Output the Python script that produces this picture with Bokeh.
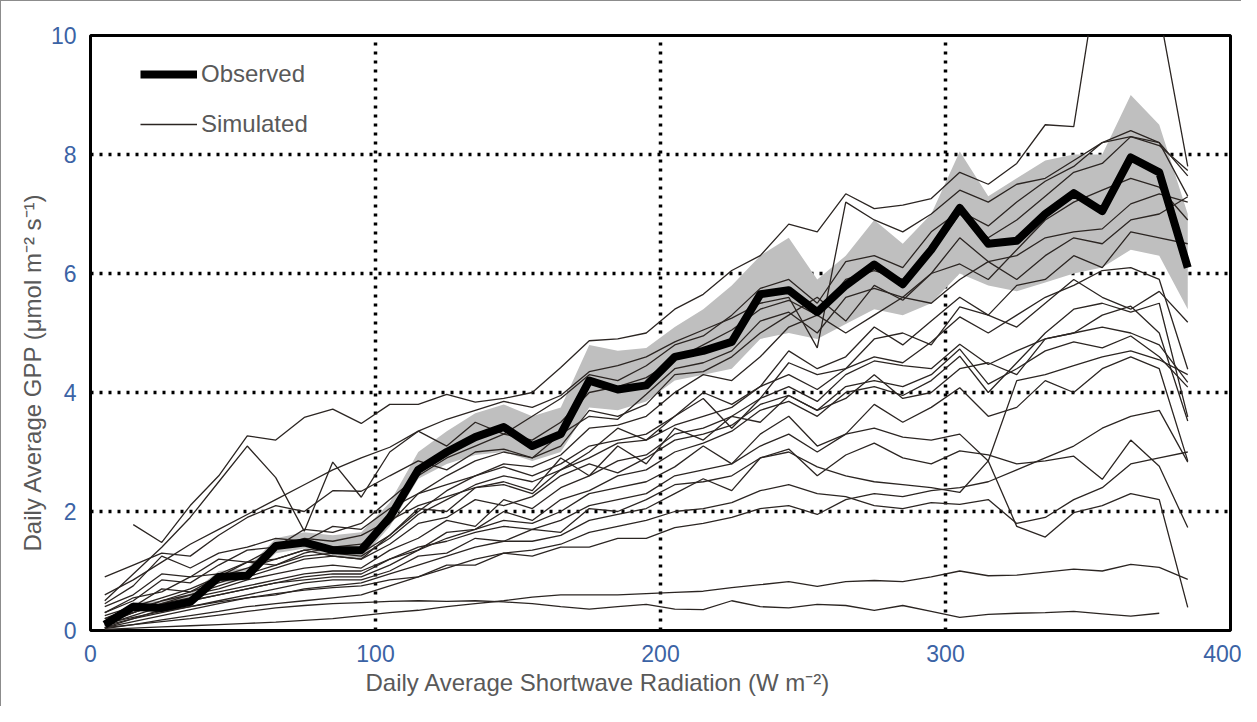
import math
from bokeh.plotting import figure
from bokeh.models import Range1d, FixedTicker, Legend, LegendItem, Title
from bokeh.embed import file_html
from bokeh.resources import INLINE

nan = float("nan")

# Shortwave radiation bins (W m-2)
radiation = [5, 15, 25, 35, 45, 55, 65, 75, 85, 95,
             105, 115, 125, 135, 145, 155, 165, 175, 185, 195,
             205, 215, 225, 235, 245, 255, 265, 275, 285, 295,
             305, 315, 325, 335, 345, 355, 365, 375, 385]

observed = [0.1, 0.4, 0.38, 0.48, 0.9, 0.92, 1.42, 1.48, 1.35, 1.35,
            1.9, 2.7, 3.0, 3.25, 3.42, 3.1, 3.3, 4.2, 4.05, 4.12,
            4.6, 4.7, 4.85, 5.65, 5.72, 5.35, 5.8, 6.15, 5.82, 6.4,
            7.1, 6.5, 6.55, 7.0, 7.35, 7.05, 7.95, 7.7, 6.1]

observed_low = [0.05, 0.32, 0.3, 0.4, 0.8, 0.85, 1.3, 1.38, 1.25, 1.2,
                1.75, 2.55, 2.8, 2.95, 3.0, 2.85, 3.0, 3.75, 3.7, 3.85,
                4.2, 4.3, 4.4, 4.9, 5.0, 4.9, 5.15, 5.4, 5.3, 5.5,
                6.0, 5.8, 5.7, 5.85, 6.0, 6.1, 6.4, 6.3, 5.4]

observed_high = [0.15, 0.48, 0.5, 0.62, 1.0, 1.05, 1.55, 1.65, 1.6, 1.65,
                 2.15, 3.0, 3.35, 3.65, 3.8, 3.6, 3.75, 4.8, 4.7, 4.75,
                 5.1, 5.4, 5.8, 6.3, 6.6, 5.9, 6.3, 6.9, 6.5, 7.0,
                 8.05, 7.3, 7.6, 7.9, 8.0, 8.0, 9.0, 8.5, 7.0]

sim_01 = [nan, 1.78, 1.48, 2.1, 2.6, 3.27, 3.2, 3.58, 3.72, 3.48,
          3.8, 3.8, 3.97, 3.84, 3.9, 4.0, 4.42, 4.87, 4.9, 5.0,
          5.4, 5.65, 6.05, 6.3, 6.83, 6.7, 7.34, 7.09, 7.15, 7.26,
          7.7, 7.5, 7.85, 8.5, 8.47, 11.5, 12.5, 10.4, 7.8]
sim_02 = [0.5, 0.95, 1.4, 1.9, 2.5, 3.1, 2.57, 1.67, 2.83, 2.24,
          3.0, 3.35, 3.1, 3.5, 3.3, 3.6, 3.9, 4.3, 4.2, 4.45,
          4.8, 4.95, 5.3, 5.75, 5.9, 5.5, 6.2, 6.3, 6.1, 6.7,
          7.05, 6.8, 7.2, 7.55, 7.8, 8.2, 8.4, 8.2, 7.64]
sim_03 = [0.6, 0.85, 1.15, 1.45, 1.7, 1.95, 2.2, 2.45, 2.7, 2.9,
          3.08, 3.35, 3.55, 3.7, 3.85, 3.75, 3.95, 4.35, 4.45, 4.6,
          4.85, 5.05, 5.25, 5.5, 5.6, 4.75, 7.2, 6.9, 6.7, 7.0,
          7.4, 7.2, 7.5, 7.6, 7.9, 8.2, 8.3, 8.2, 7.3]
sim_04 = [0.3, 0.5, 0.85, 0.8, 1.1, 1.35, 1.4, 1.7, 1.65, 1.8,
          2.2, 2.6, 2.9, 3.1, 3.3, 3.2, 3.5, 4.0, 4.1, 4.25,
          4.55, 4.8, 5.05, 5.4, 5.55, 5.3, 5.9, 6.05, 5.9, 6.35,
          7.0, 6.6, 6.9, 7.3, 7.7, 7.85, 8.3, 8.15, 7.73]
sim_05 = [0.2, 0.4, 0.55, 0.7, 0.9, 1.05, 1.2, 1.35, 1.4, 1.45,
          1.8, 2.3, 2.6, 2.85, 3.0, 2.9, 3.1, 3.7, 3.6, 3.8,
          4.3, 4.35, 4.6, 5.0, 5.3, 5.6, 5.2, 5.8, 5.55, 6.0,
          6.6, 6.2, 6.3, 6.6, 6.7, 6.75, 7.17, 7.34, 7.2]
sim_06 = [0.15, 0.3, 0.45, 0.6, 0.75, 0.9, 1.05, 1.2, 1.25, 1.2,
          1.6, 2.0, 2.35, 2.6, 2.8, 2.75, 2.95, 3.4, 3.45, 3.6,
          4.0, 4.3, 4.2, 4.6, 5.1, 5.3, 5.0, 5.3, 5.6, 5.5,
          5.9, 6.2, 5.9, 6.3, 6.6, 6.5, 6.9, 7.0, 7.29]
sim_07 = [0.1, 0.3, 0.5, 0.65, 0.8, 0.95, 1.1, 1.25, 1.3, 1.25,
          1.55, 1.95, 2.2, 2.45, 2.6, 2.5, 2.7, 3.0, 3.4, 3.2,
          3.6, 4.0, 3.8, 4.1, 4.7, 4.4, 4.6, 5.1, 4.8, 5.2,
          5.6, 5.3, 5.8, 5.9, 6.3, 6.1, 6.7, 6.6, 6.5]
sim_08 = [0.45, 0.75, 1.25, 1.05, 1.3, 1.4, 1.55, 1.5, 1.75, 1.7,
          2.05, 2.3, 2.45, 2.6, 2.75, 2.6, 2.8, 3.1, 3.2, 3.3,
          3.6, 3.9, 3.4, 3.9, 4.5, 4.3, 4.4, 4.9, 5.0, 4.8,
          5.44, 5.3, 5.1, 5.5, 5.9, 5.6, 5.4, 5.7, 5.18]
sim_09 = [0.25, 0.4, 0.7, 0.65, 0.9, 1.15, 1.1, 1.3, 1.4, 1.3,
          1.6, 2.05, 2.0, 2.4, 2.45, 2.3, 2.7, 2.9, 3.15, 3.2,
          3.45, 3.6, 3.75, 4.1, 4.3, 4.05, 4.4, 4.6, 4.5, 4.85,
          5.27, 5.0, 5.3, 5.6, 5.8, 6.05, 6.1, 5.9, 4.39]
sim_10 = [0.2, 0.35, 0.5, 0.6, 0.7, 0.85, 0.95, 1.05, 1.1, 1.05,
          1.35, 1.55, 1.85, 1.75, 2.2, 2.05, 2.4, 2.6, 2.85, 2.95,
          3.3, 3.4, 3.6, 3.9, 4.1, 3.85, 4.3, 4.53, 4.45, 4.4,
          4.81, 4.47, 4.7, 4.9, 5.0, 5.1, 5.0, 4.8, 4.17]
sim_11 = [0.3, 0.55, 0.65, 0.9, 0.95, 1.15, 1.2, 1.35, 1.25, 1.2,
          1.45, 1.8, 1.9, 2.2, 2.1, 2.25, 2.6, 2.8, 2.65, 2.9,
          3.2, 3.3, 3.45, 3.8, 3.95, 3.7, 4.1, 4.2, 4.1, 4.3,
          4.73, 4.14, 4.4, 4.7, 4.85, 4.75, 4.95, 4.6, 4.09]
sim_12 = [0.05, 0.2, 0.35, 0.5, 0.6, 0.7, 0.8, 0.9, 0.95, 0.95,
          1.2, 1.35, 1.65, 1.7, 2.0, 1.85, 2.2, 2.35, 2.6, 2.7,
          3.0, 3.15, 3.35, 3.7, 3.85, 3.6, 4.0, 4.1, 3.95, 4.2,
          4.61, 4.0, 4.5, 5.0, 5.4, 5.5, 5.35, 5.5, 3.59]
sim_13 = [0.4, 0.6, 0.95, 0.9, 1.2, 1.15, 1.4, 1.55, 1.5, 1.6,
          1.85, 2.1, 2.25, 2.4, 2.5, 2.35, 2.9, 2.6, 3.1, 2.8,
          3.4, 3.2, 3.6, 3.5, 3.95, 3.7, 3.9, 4.3, 3.9, 4.0,
          4.4, 4.5, 4.3, 4.9, 5.0, 5.3, 5.45, 5.0, 3.52]
sim_14 = [0.1, 0.25, 0.4, 0.5, 0.6, 0.7, 0.8, 0.85, 0.9, 0.9,
          1.1, 1.35, 1.55, 1.7, 1.85, 1.8, 2.0, 2.3, 2.4, 2.5,
          2.75, 3.1, 2.8, 3.3, 3.6, 3.1, 3.3, 3.8, 3.5, 3.75,
          4.08, 3.6, 3.75, 4.2, 4.0, 4.4, 4.6, 4.4, 2.85]
sim_15 = [0.15, 0.3, 0.45, 0.55, 0.65, 0.75, 0.85, 0.95, 1.0, 1.0,
          1.2, 1.4, 1.5, 1.65, 1.75, 1.7, 1.85, 2.1, 2.2, 2.3,
          2.6, 2.7, 2.8, 3.1, 3.3, 3.0, 3.3, 3.4, 3.25, 3.2,
          3.3, 2.85, 1.75, 1.57, 1.98, 2.1, 2.3, 2.2, 0.39]
sim_16 = [0.05, 0.15, 0.25, 0.35, 0.45, 0.55, 0.6, 0.7, 0.75, 0.8,
          0.95, 1.1, 1.25, 1.4, 1.5, 1.5, 1.6, 1.85, 1.95, 2.05,
          2.3, 2.55, 2.35, 2.9, 3.05, 2.6, 2.95, 3.15, 2.9, 2.8,
          3.02, 2.95, 2.8, 2.85, 2.93, 2.54, 3.2, 2.76, 1.73]
sim_17 = [0.08, 0.2, 0.3, 0.4, 0.5, 0.6, 0.7, 0.8, 0.85, 0.85,
          1.0, 1.25, 1.3, 1.55, 1.5, 1.7, 1.65, 2.05, 2.0, 2.2,
          2.45, 2.5, 2.6, 2.9, 3.0, 2.75, 2.6, 2.5, 2.45, 2.4,
          2.32, 2.85, 4.2, 4.3, 4.45, 4.6, 4.7, 4.55, 4.3]
sim_18 = [0.03, 0.1, 0.18, 0.25, 0.32, 0.4, 0.45, 0.5, 0.55, 0.6,
          0.75, 0.9, 1.05, 1.2, 1.3, 1.35, 1.45, 1.65, 1.75, 1.85,
          2.0, 2.05, 2.15, 2.35, 2.45, 2.3, 2.25, 2.1, 2.05, 2.15,
          2.12, 2.2, 1.8, 1.9, 2.2, 2.4, 2.8, 2.9, 3.0]
sim_19 = [0.9, 1.1, 1.3, 1.25, 1.6, 1.9, 2.1, 2.0, 2.35, 2.34,
          2.6, 2.85, 2.7, 3.0, 3.05, 2.9, 3.3, 3.6, 3.55, 3.97,
          4.4, 4.5, 4.7, 5.2, 5.35, 5.0, 5.6, 5.75, 5.6, 6.0,
          6.16, 5.9, 6.4, 6.9, 7.2, 7.4, 7.6, 7.45, 6.9]
sim_20 = [0.12, 0.22, 0.32, 0.4, 0.48, 0.55, 0.62, 0.68, 0.72, 0.75,
          0.85, 0.9, 1.1, 1.1, 1.3, 1.25, 1.4, 1.4, 1.55, 1.55,
          1.73, 1.8, 1.9, 2.05, 2.1, 1.95, 2.2, 2.3, 2.25, 2.35,
          2.4, 2.5, 2.7, 2.9, 3.1, 3.4, 3.6, 3.7, 2.83]
sim_21 = [0.05, 0.1, 0.15, 0.2, 0.26, 0.32, 0.38, 0.42, 0.45, 0.47,
          0.49, 0.5, 0.49, 0.5, 0.48, 0.45, 0.4, 0.36, 0.4, 0.44,
          0.36, 0.35, 0.5, 0.4, 0.38, 0.44, 0.42, 0.34, 0.42, 0.32,
          0.22, 0.27, 0.29, 0.3, 0.32, 0.28, 0.24, 0.29, nan]
sim_22 = [0.02, 0.04, 0.06, 0.08, 0.1, 0.12, 0.14, 0.17, 0.2, 0.25,
          0.3, 0.34, 0.4, 0.45, 0.5, 0.56, 0.6, 0.6, 0.6, 0.62,
          0.64, 0.66, 0.72, 0.77, 0.82, 0.74, 0.82, 0.84, 0.82, 0.9,
          1.0, 0.92, 0.93, 0.98, 1.03, 1.0, 1.11, 1.06, 0.86]

simulated = [sim_01, sim_02, sim_03, sim_04, sim_05, sim_06, sim_07, sim_08,
             sim_09, sim_10, sim_11, sim_12, sim_13, sim_14, sim_15, sim_16,
             sim_17, sim_18, sim_19, sim_20, sim_21, sim_22]

x_ticks = [0, 100, 200, 300, 400]
y_ticks = [0, 2, 4, 6, 8, 10]
x_title = "Daily Average Shortwave Radiation (W m\u207b\u00b2)"
y_title = "Daily Average GPP (\u03bcmol m\u207b\u00b2 s\u207b\u00b9)"

FONT = "Liberation Sans"
TICK_BLUE = "#3b63a5"
LABEL_GREY = "#595959"

p = figure(width=1241, height=706, output_backend="svg", toolbar_location=None,
           x_range=Range1d(0, 400), y_range=Range1d(0, 10),
           min_border_left=89, min_border_right=12, min_border_top=34, min_border_bottom=77)
p.styles = {"border-top": "1px solid #8c8c8c", "border-left": "1px solid #8c8c8c"}

p.outline_line_color = "black"
p.outline_line_width = 3
p.background_fill_color = "white"
p.border_fill_color = "white"

for ax in (p.xaxis[0], p.yaxis[0]):
    ax.axis_line_color = None
    ax.major_tick_line_color = None
    ax.minor_tick_line_color = None
    ax.major_label_text_font = FONT
    ax.major_label_text_font_size = "23px"
    ax.major_label_text_color = TICK_BLUE

p.xaxis[0].ticker = FixedTicker(ticks=x_ticks)
p.yaxis[0].ticker = FixedTicker(ticks=y_ticks)
p.xaxis[0].major_label_standoff = 8
p.yaxis[0].major_label_standoff = 8

p.xgrid.ticker = FixedTicker(ticks=[100, 200, 300])
p.ygrid.ticker = FixedTicker(ticks=[2, 4, 6, 8])
for g in (p.xgrid[0], p.ygrid[0]):
    g.grid_line_color = "black"
    g.grid_line_width = 3.5
    g.grid_line_dash = "3 6"
    g.grid_line_alpha = 1.0

p.varea(x=radiation, y1=observed_low, y2=observed_high, fill_color="#bfbfbf")

sim_renderers = []
for s in simulated:
    r = p.line(radiation, s, line_color="#2b2522", line_width=1.3)
    sim_renderers.append(r)

obs_r = p.line(radiation, observed, line_color="black", line_width=8, line_join="round")

legend = Legend(items=[LegendItem(label="Observed", renderers=[obs_r]),
                       LegendItem(label="Simulated", renderers=[sim_renderers[0]])],
                location=(50, 492), border_line_color=None, background_fill_alpha=0,
                padding=0, margin=0, spacing=22, glyph_width=57, glyph_height=22,
                label_height=22, label_standoff=4,
                label_text_font=FONT, label_text_font_size="24px", label_text_color=LABEL_GREY)
p.add_layout(legend)

x_lab = Title(text=x_title, align="left", offset=275, standoff=4,
              text_font=FONT, text_font_size="24px", text_font_style="normal",
              text_color=LABEL_GREY)
y_lab = Title(text=y_title, align="left", offset=79, standoff=4,
              text_font=FONT, text_font_size="24px", text_font_style="normal",
              text_color=LABEL_GREY)
p.add_layout(x_lab, "below")
p.add_layout(y_lab, "left")

open("out.html", "w").write(file_html(p, INLINE))
